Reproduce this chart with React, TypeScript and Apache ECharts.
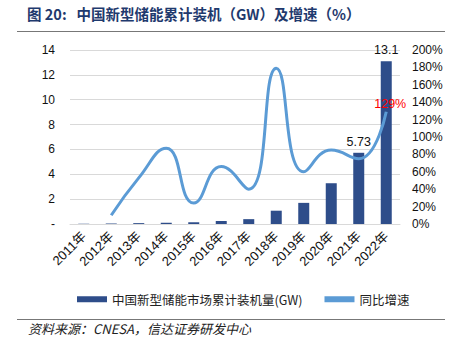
import React, { useEffect, useRef } from "react";
import * as echarts from "echarts";

const years = ["2011年", "2012年", "2013年", "2014年", "2015年", "2016年", "2017年", "2018年", "2019年", "2020年", "2021年", "2022年"];
const capacity = [0.02, 0.04, 0.07, 0.1, 0.14, 0.24, 0.39, 1.07, 1.7, 3.28, 5.73, 13.1];
const growth = [null, 10, 53, 87, 24, 66, 40, 179, 60, 85, 75, 129];
const leftTicks = { min: 0, max: 14, interval: 2 };
const rightTicks = { min: 0, max: 200, interval: 20 };

const FONT = "'Liberation Sans', Arial, 'Noto Sans CJK SC', sans-serif";
const CJK = "'Noto Sans CJK SC', 'Liberation Sans', sans-serif";

export default function App() {
  const ref = useRef<HTMLDivElement>(null);
  useEffect(() => {
    const chart = echarts.init(ref.current!, null, { renderer: "svg" });
    chart.setOption({
      animation: false,
      backgroundColor: "#ffffff",
      textStyle: { fontFamily: FONT },
      graphic: [
        {
          type: "text",
          left: 27,
          top: 6,
          style: {
            text: "图 20:   中国新型储能累计装机（GW）及增速（%）",
            font: "bold 14.5px " + CJK,
            fill: "#1f3a6e",
          },
        },
        { type: "line", shape: { x1: 17, y1: 31.5, x2: 445, y2: 31.5 }, style: { stroke: "#777", lineWidth: 1 } },
        { type: "line", shape: { x1: 17, y1: 319.5, x2: 445, y2: 319.5 }, style: { stroke: "#777", lineWidth: 1 } },
        {
          type: "text",
          left: 28,
          top: 322,
          style: {
            text: "资料来源：CNESA，信达证券研发中心",
            font: "italic 13px " + CJK,
            fill: "#222",
          },
        },
      ],
      grid: { left: 70, right: 55, top: 50, bottom: 130 },
      legend: {
        left: 72,
        top: 288,
        itemWidth: 30,
        itemHeight: 6,
        itemGap: 22,
        textStyle: { fontFamily: CJK, fontSize: 12.5, color: "#222" },
        data: [
          { name: "中国新型储能市场累计装机量(GW)", icon: "rect" },
          { name: "同比增速", icon: "rect", itemStyle: { color: "#5b9bd5" } },
        ],
      },
      xAxis: {
        type: "category",
        data: years,
        axisTick: { show: false },
        axisLine: { lineStyle: { color: "#d9d9d9" } },
        axisLabel: { rotate: 45, fontSize: 13, color: "#111", fontFamily: FONT, margin: 10, interval: 0 },
      },
      yAxis: [
        {
          type: "value",
          min: leftTicks.min,
          max: leftTicks.max,
          interval: leftTicks.interval,
          axisLine: { show: false },
          axisTick: { show: false },
          splitLine: { lineStyle: { color: "#d9d9d9" } },
          axisLabel: {
            fontSize: 12,
            color: "#111",
            margin: 15,
            formatter: (v: number) => (v === 0 ? "-" : String(v)),
          },
        },
        {
          type: "value",
          min: rightTicks.min,
          max: rightTicks.max,
          interval: rightTicks.interval,
          axisLine: { show: false },
          axisTick: { show: false },
          splitLine: { show: false },
          axisLabel: { fontSize: 12, color: "#111", margin: 12, formatter: "{value}%" },
        },
      ],
      series: [
        {
          name: "中国新型储能市场累计装机量(GW)",
          type: "bar",
          data: capacity.map((v, i) => ({
            value: v,
            label: {
              show: i >= 10,
              position: "top",
              fontSize: 12.5,
              color: "#111",
              formatter: (p: any) => String(p.value),
            },
          })),
          barWidth: 11,
          itemStyle: { color: "#2e4d8a" },
        },
        {
          name: "同比增速",
          type: "line",
          yAxisIndex: 1,
          data: growth.map((v, i) => ({
            value: v,
            label: {
              show: i === 11,
              position: "top",
              offset: [4, 4],
              fontSize: 12.5,
              color: "#ff0000",
              formatter: "{c}%",
            },
          })),
          smooth: 0.5,
          showSymbol: true,
          symbol: "circle",
          symbolSize: 0.1,
          lineStyle: { color: "#5b9bd5", width: 3 },
          itemStyle: { color: "#5b9bd5" },
          connectNulls: false,
        },
      ],
    });
    return () => chart.dispose();
  }, []);
  return <div ref={ref} style={{ width: 455, height: 354, position: "absolute", left: 0, top: 0 }} />;
}
